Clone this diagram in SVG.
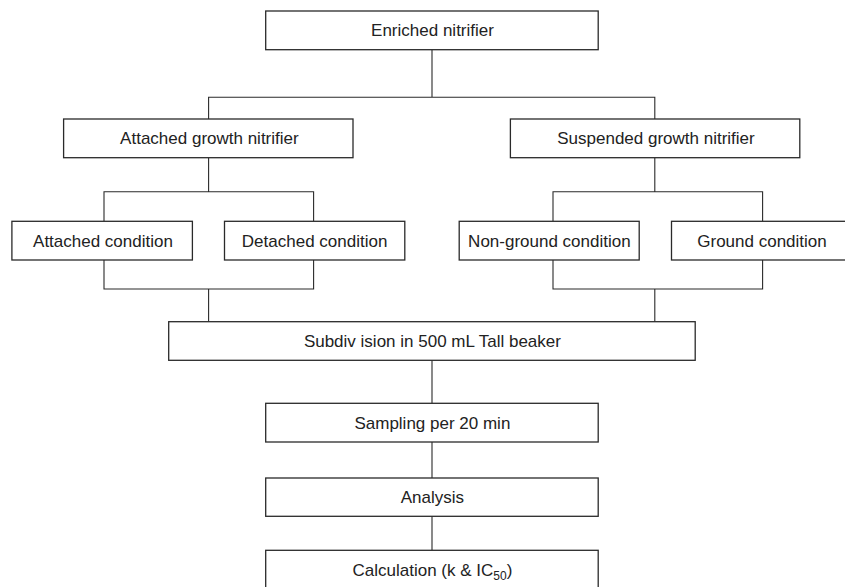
<svg xmlns="http://www.w3.org/2000/svg" width="845" height="587" viewBox="0 0 845 587">
<style>
.box{fill:#fff;stroke:#2a2a2a;stroke-width:1.3}
.lbl{font-family:"Liberation Sans",Arial,sans-serif;font-size:17px;fill:#222;text-anchor:middle}
.conn{fill:none;stroke:#2a2a2a;stroke-width:1.1}
</style>
<rect width="845" height="587" fill="#fff"/>
<g id="connectors">
<path class="conn" d="M432,49.7V97.3M208.6,119V97.3H654.8V119"/>
<path class="conn" d="M208.6,157.7V191.7M104,221.3V191.7H313.6V221.3"/>
<path class="conn" d="M654.8,157.7V191.7M553,221.3V191.7H762.6V221.3"/>
<path class="conn" d="M104,260V289H313.6V260M208.6,289V321.7"/>
<path class="conn" d="M553,260V289H762.6V260M654.8,289V321.7"/>
<path class="conn" d="M432,360.3V403.3M432,442V478M432,516.3V550.3"/>
</g>
<g id="enriched"><rect class="box" x="265.7" y="11" width="332.5" height="38.7"/><text class="lbl" x="432.5" y="36">Enriched nitrifier</text></g>
<g id="attached-growth"><rect class="box" x="63.6" y="119" width="289.4" height="38.7"/><text class="lbl" x="209.4" y="144.3">Attached growth nitrifier</text></g>
<g id="suspended-growth"><rect class="box" x="510.4" y="119" width="289.4" height="38.7"/><text class="lbl" x="656" y="144.3">Suspended growth nitrifier</text></g>
<g id="attached-condition"><rect class="box" x="11.9" y="221.3" width="180.5" height="38.7"/><text class="lbl" x="103" y="246.7">Attached condition</text></g>
<g id="detached-condition"><rect class="box" x="224.5" y="221.3" width="180.3" height="38.7"/><text class="lbl" x="314.6" y="246.7">Detached condition</text></g>
<g id="non-ground-condition"><rect class="box" x="459.2" y="221.3" width="180" height="38.7"/><text class="lbl" x="549.4" y="246.7">Non-ground condition</text></g>
<g id="ground-condition"><rect class="box" x="671.5" y="221.3" width="176" height="38.7"/><text class="lbl" x="762" y="246.7">Ground condition</text></g>
<g id="subdivision"><rect class="box" x="168.7" y="321.7" width="526.5" height="38.6"/><text class="lbl" x="432.4" y="347">Subdiv ision in 500 mL Tall beaker</text></g>
<g id="sampling"><rect class="box" x="265.7" y="403.3" width="332.5" height="38.7"/><text class="lbl" x="432.4" y="428.6">Sampling per 20 min</text></g>
<g id="analysis"><rect class="box" x="265.7" y="478" width="332.5" height="38.3"/><text class="lbl" x="432.4" y="503.2">Analysis</text></g>
<g id="calculation"><rect class="box" x="265.7" y="550.3" width="332.5" height="38.7"/><text class="lbl" x="432.4" y="575.5">Calculation (k &amp; IC<tspan font-size="12" dy="4">50</tspan><tspan dy="-4">)</tspan></text></g>
</svg>
